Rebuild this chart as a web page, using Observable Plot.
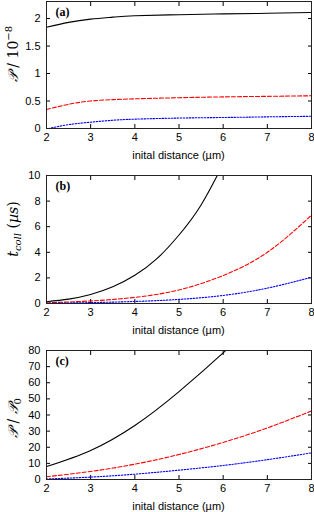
<!DOCTYPE html>
<html><head><meta charset="utf-8">
<script src="https://cdn.jsdelivr.net/npm/d3@7"></script>
<script src="https://cdn.jsdelivr.net/npm/@observablehq/plot@0.6"></script>
<style>
body{margin:0;background:#fff;}
#c{width:314px;}
#c svg{display:block;}
</style></head>
<body><div id="c"></div>
<script>
// Panel (a): P / 10^-8
const aX = [2, 2.5, 3, 3.5, 4, 5, 6, 7, 8];
const aBlack = [1.84, 1.93, 1.99, 2.025, 2.05, 2.07, 2.085, 2.095, 2.11];
const aRed = [0.345, 0.44, 0.50, 0.525, 0.54, 0.56, 0.575, 0.585, 0.595];
const aBlueX = [2.05, 2.5, 3, 3.5, 4, 5, 6, 7, 8];
const aBlue = [0.0, 0.07, 0.115, 0.15, 0.17, 0.19, 0.2, 0.212, 0.222];
// Panel (b): t_coll (µs)
const bBlackX = [2, 2.5, 3, 3.5, 4, 4.5, 5, 5.5, 6];
const bBlack = [0.14, 0.34, 0.70, 1.3, 2.2, 3.5, 5.35, 7.7, 10.9];
const bX = [2, 3, 4, 5, 6, 7, 8];
const bRed = [0.05, 0.2, 0.48, 1.06, 2.19, 4.0, 6.9];
const bBlue = [0.02, 0.07, 0.16, 0.32, 0.63, 1.2, 2.05];
// Panel (c): P / P0
const cBlackX = [2, 3, 4, 5, 6, 6.3];
const cBlack = [8, 18, 33.5, 54.5, 78.5, 86.5];
const cX = [2, 3, 4, 5, 6, 7, 8];
const cRed = [1.7, 5, 9.5, 15.5, 23, 32, 42.5];
const cBlue = [0.3, 1.5, 3.3, 5.8, 8.7, 12.3, 16.5];
const xTicks = [2, 3, 4, 5, 6, 7, 8];

const zip = (xs, ys) => xs.map((x, i) => ({x, y: ys[i]}));
const FONT = "Liberation Sans, Arial, sans-serif";
const SERIF = "DejaVu Serif, Liberation Serif, serif";

function panel({height, marginTop, marginBottom, yDomain, yTicks, series, tag, ylabel, labelCy}) {
  const marks = [
    Plot.axisX({anchor: "bottom", ticks: xTicks, tickSize: -4, tickPadding: 9, fontSize: 11, tickFormat: d => String(d), label: null}),
    Plot.axisX({anchor: "top", ticks: xTicks, tickSize: -4, tickFormat: () => "", label: null}),
    Plot.axisY({anchor: "left", ticks: yTicks, tickSize: -4, tickPadding: 10, fontSize: 11, tickFormat: d => String(d), label: null}),
    Plot.axisY({anchor: "right", ticks: yTicks, tickSize: -4, tickFormat: () => "", label: null}),
  ];
  for (const s of series) {
    marks.push(Plot.line(zip(s.x, s.y), {x: "x", y: "y", stroke: s.color, strokeWidth: 1.1,
      strokeDasharray: s.dash, curve: "natural", clip: true}));
  }
  marks.push(Plot.frame({stroke: "#222", strokeWidth: 1}));
  marks.push(Plot.text([tag], {frameAnchor: "top-left", dx: 9, dy: 6, text: d => d,
    fontFamily: "Liberation Serif, Times New Roman, serif", fontWeight: "bold", fontSize: 12, textAnchor: "start"}));
  const svg = Plot.plot({
    width: 314, height, marginTop, marginBottom, marginLeft: 46, marginRight: 3,
    style: {fontFamily: FONT, fontSize: "11px", color: "#000", background: "#fff"},
    x: {domain: [2, 8]},
    y: {domain: yDomain},
    marks
  });
  const s = d3.select(svg);
  const plotBottom = height - marginBottom;
  s.append("text").attr("x", 46 + (311 - 46) / 2).attr("y", plotBottom + 31)
    .attr("text-anchor", "middle").attr("font-family", FONT).attr("font-size", 11).attr("fill", "#000")
    .text("inital distance (µm)");
  const t = s.append("text").attr("transform", `translate(18,${labelCy}) rotate(-90)`)
    .attr("text-anchor", "middle").attr("font-family", SERIF)
    .attr("font-size", 14).attr("fill", "#000");
  ylabel(t);
  return svg;
}

const c = document.getElementById("c");
c.appendChild(panel({
  height: 165, marginTop: 1, marginBottom: 37, yDomain: [0, 2.31], yTicks: [0, 0.5, 1, 1.5, 2],
  tag: "(a)", labelCy: 54,
  series: [
    {x: aX, y: aBlack, color: "#000"},
    {x: aX, y: aRed, color: "#f00", dash: "4,2"},
    {x: aBlueX, y: aBlue, color: "#00f", dash: "1.5,1.5"}
  ],
  ylabel: t => { t.append("tspan").attr("font-style", "italic").text("𝒫"); t.append("tspan").text(" / 10");
    t.append("tspan").attr("font-size", 10).attr("dy", -6).text("−8"); }
}));
c.appendChild(panel({
  height: 175, marginTop: 10, marginBottom: 37, yDomain: [0, 10], yTicks: [0, 2, 4, 6, 8, 10],
  tag: "(b)", labelCy: 64,
  series: [
    {x: bBlackX, y: bBlack, color: "#000"},
    {x: bX, y: bRed, color: "#f00", dash: "4,2"},
    {x: bX, y: bBlue, color: "#00f", dash: "1.5,1.5"}
  ],
  ylabel: t => { t.append("tspan").attr("font-style", "italic").text("t");
    t.append("tspan").attr("font-style", "italic").attr("font-size", 10).attr("dy", 3).text("coll");
    t.append("tspan").attr("dy", -3).text(" (");
    t.append("tspan").attr("font-style", "italic").text("µs");
    t.append("tspan").text(")"); }
}));
c.appendChild(panel({
  height: 172, marginTop: 10, marginBottom: 33, yDomain: [0, 80], yTicks: [0, 10, 20, 30, 40, 50, 60, 70, 80],
  tag: "(c)", labelCy: 78,
  series: [
    {x: cBlackX, y: cBlack, color: "#000"},
    {x: cX, y: cRed, color: "#f00", dash: "4,2"},
    {x: cX, y: cBlue, color: "#00f", dash: "1.5,1.5"}
  ],
  ylabel: t => { t.append("tspan").attr("font-style", "italic").text("𝒫"); t.append("tspan").text(" / ");
    t.append("tspan").attr("font-style", "italic").text("𝒫");
    t.append("tspan").attr("font-size", 10).attr("dy", 3).text("0"); }
}));
</script></body></html>
